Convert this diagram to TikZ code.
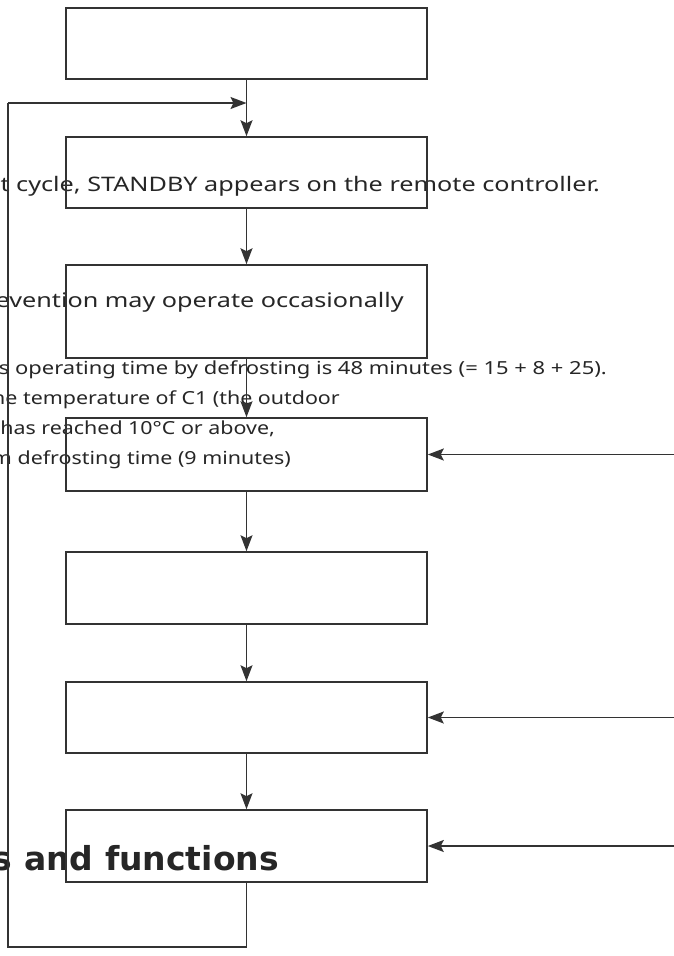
\documentclass[tikz,border=0pt]{standalone}
\usepackage{fontspec}
\usepackage{graphicx}
\setmainfont{Noto Sans}
\newfontfamily\headfont{DejaVu Sans}
\usetikzlibrary{arrows.meta}

\newcommand{\widetext}[2]{\scalebox{#1}[1]{#2}}

\begin{document}
\begin{tikzpicture}[x=1pt,y=-1pt,
    box/.style={draw=black!80,line width=1.6pt,rectangle,inner sep=0pt,minimum width=361pt},
    flow/.style={draw=black!80,line width=1.6pt,-{Stealth[length=16pt,width=12pt,inset=3pt]}},
    txt/.style={text=black!85,inner sep=0pt,anchor=base east}]
      \useasboundingbox (0,0) rectangle (674,956);

      % the text that runs across the chart
      \node[txt,font=\fontsize{20}{24}\selectfont] (t1) at (600,191) {\widetext{1.26}{t cycle, STANDBY appears on the remote controller.}};
      \node[txt,font=\fontsize{20}{24}\selectfont] (t2) at (404,307) {\widetext{1.26}{evention may operate occasionally}};
      \node[txt,font=\fontsize{18}{22}\selectfont] (t3) at (607,374) {\widetext{1.22}{s operating time by defrosting is 48 minutes (= 15 + 8 + 25).}};
      \node[txt,font=\fontsize{18}{22}\selectfont] (t4) at (340,404) {\widetext{1.19}{he temperature of C1 (the outdoor}};
      \node[txt,font=\fontsize{18}{22}\selectfont] (t5) at (275,434) {\widetext{1.19}{has reached 10°C or above,}};
      \node[txt,font=\fontsize{18}{22}\selectfont] (t6) at (291,464) {\widetext{1.19}{m defrosting time (9 minutes)}};
      \node[txt,font=\fontsize{33}{40}\headfont\bfseries] (t7) at (279,870) {s and functions};

      % boxes
      \node[box,minimum height=71pt] (b1) at (246.5,43.5) {};
      \node[box,minimum height=71pt] (b2) at (246.5,172.5) {};
      \node[box,minimum height=93pt] (b3) at (246.5,311.5) {};
      \node[box,minimum height=73pt] (b4) at (246.5,454.5) {};
      \node[box,minimum height=72pt] (b5) at (246.5,588) {};
      \node[box,minimum height=71pt] (b6) at (246.5,717.5) {};
      \node[box,minimum height=72pt] (b7) at (246.5,846) {};

      \coordinate (r4) at (674,454.5);
      \coordinate (r6) at (674,717.5);
      \coordinate (r7) at (674,846);
      \coordinate (lb) at (8,947);
      \coordinate (lt) at (8,103);

      \path[flow] (b1) -- (b2);
      \path[flow] (b2) -- (b3);
      \path[flow] (b3) -- (b4);
      \path[flow] (b4) -- (b5);
      \path[flow] (b5) -- (b6);
      \path[flow] (b6) -- (b7);

      \path[flow] (r4) -- (b4.east);
      \path[flow] (r6) -- (b6.east);
      \path[flow] (r7) -- (b7.east);

      \draw[draw=black!80,line width=1.6pt] (b7.south) |- (lb) -- (lt);
      \path[flow] (lt) -- (lt -| b1.south);

    \end{tikzpicture}
\end{document}
